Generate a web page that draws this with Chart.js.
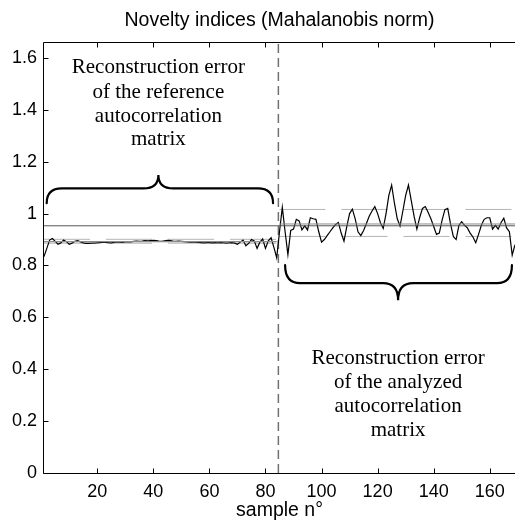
<!DOCTYPE html>
<html>
<head>
<meta charset="utf-8">
<title>Novelty indices</title>
<script src="https://cdn.jsdelivr.net/npm/chart.js@4/dist/chart.umd.min.js"></script>
<style>
  html, body { margin: 0; padding: 0; background: #ffffff; }
  #wrap { width: 515px; height: 522px; position: relative; }
  canvas { display: block; }
</style>
</head>
<body>
<div id="wrap"><canvas id="chart" width="515" height="522"></canvas></div>
<script>
// Novelty index per sample: samples 1-84 (reference matrix), 85-169 (analyzed matrix)
const firstSample = 1;
const referenceValues = [
  0.834, 0.866, 0.898, 0.904, 0.893, 0.882, 0.887, 0.898, 0.892, 0.882,
  0.886, 0.893, 0.896, 0.891, 0.887, 0.885, 0.885, 0.886, 0.886, 0.887,
  0.888, 0.889, 0.890, 0.888, 0.887, 0.889, 0.891, 0.890, 0.889, 0.891,
  0.892, 0.891, 0.893, 0.894, 0.893, 0.894, 0.896, 0.895, 0.896, 0.897,
  0.896, 0.894, 0.893, 0.895, 0.897, 0.896, 0.894, 0.893, 0.894, 0.893,
  0.892, 0.891, 0.890, 0.891, 0.890, 0.889, 0.888, 0.887, 0.888, 0.888,
  0.887, 0.888, 0.887, 0.888, 0.887, 0.886, 0.887, 0.888, 0.886, 0.882,
  0.890, 0.898, 0.876, 0.885, 0.900, 0.895, 0.866, 0.890, 0.902, 0.866,
  0.895, 0.907, 0.870, 0.830
];
const analyzedValues = [
  0.930, 1.024, 0.930, 0.842, 0.935, 0.940, 0.978, 0.972, 0.937, 0.953,
  0.937, 0.984, 0.980, 0.978, 0.930, 0.890, 0.900, 0.915, 0.930, 0.945,
  0.958, 0.966, 0.925, 0.894, 0.950, 1.000, 1.017, 0.980, 0.930, 0.915,
  0.935, 0.962, 0.990, 1.010, 1.027, 1.000, 0.965, 0.943, 1.000, 1.070,
  1.110, 1.040, 0.980, 0.952, 1.010, 1.070, 1.110, 1.050, 0.990, 0.940,
  0.985, 1.020, 1.027, 1.005, 0.980, 0.950, 0.920, 0.925, 0.975, 1.015,
  1.020, 0.960, 0.912, 0.900, 0.955, 0.969, 0.955, 0.945, 0.925, 0.910,
  0.888, 0.920, 0.955, 0.978, 0.984, 0.984, 0.940, 0.955, 0.940, 0.965,
  0.982, 0.945, 0.930, 0.840, 0.880
];

// Threshold and band statistics
const threshold = 0.953;
const referenceMean = 0.892;
const referenceBand = [0.886, 0.901];
const analyzedMean = 0.960;
const analyzedBand = [0.912, 1.016];
const splitSample = 84.6;
const lastSample = 169;

// Axis ticks
const xTicks = [20, 40, 60, 80, 100, 120, 140, 160];
const xTickLabels = ['20', '40', '60', '80', '100', '120', '140', '160'];
const yTicks = [0, 0.2, 0.4, 0.6, 0.8, 1, 1.2, 1.4, 1.6];
const yTickLabels = ['0', '0.2', '0.4', '0.6', '0.8', '1', '1.2', '1.4', '1.6'];

// Annotation texts
const referenceNote = ['Reconstruction error', 'of the reference', 'autocorrelation', 'matrix'];
const analyzedNote = ['Reconstruction error', 'of the analyzed', 'autocorrelation', 'matrix'];

const allValues = referenceValues.concat(analyzedValues);
const seriesPoints = allValues.map((v, i) => ({ x: firstSample + i, y: v }));
const refEnd = firstSample + referenceValues.length - 1;
const anaStart = refEnd + 1;

function hLine(y, x0, x1) { return [{ x: x0, y: y }, { x: x1, y: y }]; }

const base = { pointRadius: 0, pointHoverRadius: 0, fill: false, tension: 0 };

const datasets = [
  Object.assign({ data: hLine(threshold, firstSample, lastSample), borderColor: '#555555', borderWidth: 1 }, base),
  Object.assign({ data: hLine(referenceMean, firstSample, refEnd), borderColor: '#8c8c8c', borderWidth: 1.2 }, base),
  Object.assign({ data: hLine(analyzedMean, anaStart, lastSample), borderColor: '#8c8c8c', borderWidth: 1 }, base),
  Object.assign({ data: seriesPoints, borderColor: '#000000', borderWidth: 1.2 }, base),
  Object.assign({ data: hLine(referenceBand[0], firstSample, refEnd), borderColor: '#b4b4b4', borderWidth: 1, borderDash: [46, 16] }, base),
  Object.assign({ data: hLine(referenceBand[1], firstSample, refEnd), borderColor: '#b4b4b4', borderWidth: 1, borderDash: [46, 16] }, base),
  Object.assign({ data: hLine(analyzedBand[0], anaStart, lastSample), borderColor: '#b4b4b4', borderWidth: 1, borderDash: [46, 16] }, base),
  Object.assign({ data: hLine(analyzedBand[1], anaStart, lastSample), borderColor: '#b4b4b4', borderWidth: 1, borderDash: [46, 16] }, base),
  Object.assign({ data: [{ x: splitSample, y: 0 }, { x: splitSample, y: 1.66 }], borderColor: '#707070', borderWidth: 1.5, borderDash: [9, 5] }, base)
];

// Curly brace in pixel space: ends at yEnd, straight part at yMid, point at yTip
function brace(ctx, x0, x1, xt, yEnd, yMid, yTip, r) {
  ctx.beginPath();
  ctx.moveTo(x0, yEnd);
  ctx.quadraticCurveTo(x0, yMid, x0 + r, yMid);
  ctx.lineTo(xt - r, yMid);
  ctx.quadraticCurveTo(xt, yMid, xt, yTip);
  ctx.quadraticCurveTo(xt, yMid, xt + r, yMid);
  ctx.lineTo(x1 - r, yMid);
  ctx.quadraticCurveTo(x1, yMid, x1, yEnd);
  ctx.stroke();
}

const frameAndNotes = {
  id: 'frameAndNotes',
  afterDraw(chart) {
    const { ctx, chartArea: a, scales } = chart;
    const sx = scales.x, sy = scales.y;
    ctx.save();
    // axes frame
    ctx.strokeStyle = '#000000';
    ctx.lineWidth = 1;
    const L = Math.round(a.left) - 0.5, B = Math.round(a.bottom) + 0.5, T = Math.round(a.top) + 0.5;
    ctx.beginPath();
    ctx.moveTo(L, T); ctx.lineTo(a.right + 2, T);
    ctx.moveTo(L, T); ctx.lineTo(L, B);
    ctx.lineTo(a.right + 2, B);
    ctx.stroke();
    // inward tick marks
    ctx.beginPath();
    xTicks.forEach(t => {
      const px = Math.round(sx.getPixelForValue(t)) + 0.5;
      ctx.moveTo(px, B); ctx.lineTo(px, B - 5);
      ctx.moveTo(px, T); ctx.lineTo(px, T + 5);
    });
    yTicks.forEach(t => {
      const py = Math.round(sy.getPixelForValue(t)) + 0.5;
      ctx.moveTo(L, py); ctx.lineTo(L + 5, py);
    });
    ctx.stroke();

    // braces
    ctx.lineWidth = 2.2;
    ctx.lineCap = 'round';
    brace(ctx, sx.getPixelForValue(1.96), sx.getPixelForValue(82.7), sx.getPixelForValue(41.8),
      sy.getPixelForValue(1.04), sy.getPixelForValue(1.097), sy.getPixelForValue(1.149), 15);
    brace(ctx, sx.getPixelForValue(87.0), sx.getPixelForValue(167.9), sx.getPixelForValue(127.3),
      sy.getPixelForValue(0.801), sy.getPixelForValue(0.732), sy.getPixelForValue(0.666), 15);

    // notes
    ctx.fillStyle = '#000000';
    ctx.font = '21px "Liberation Serif", "Times New Roman", serif';
    ctx.textAlign = 'center';
    ctx.textBaseline = 'alphabetic';
    const leftY = [1.541, 1.445, 1.354, 1.263];
    referenceNote.forEach((s, i) => ctx.fillText(s, sx.getPixelForValue(41.8), sy.getPixelForValue(leftY[i])));
    const rightY = [0.420, 0.327, 0.235, 0.143];
    analyzedNote.forEach((s, i) => ctx.fillText(s, sx.getPixelForValue(127.3), sy.getPixelForValue(rightY[i])));
    ctx.restore();
  }
};

const sansFont = '"Liberation Sans", Arial, sans-serif';

new Chart(document.getElementById('chart'), {
  type: 'line',
  data: { datasets: datasets },
  plugins: [frameAndNotes],
  options: {
    responsive: false,
    animation: false,
    devicePixelRatio: 1,
    layout: { padding: { left: 0, right: 0, top: 0, bottom: 0 } },
    plugins: {
      legend: { display: false },
      tooltip: { enabled: false },
      title: {
        display: true,
        fullSize: false,
        text: 'Novelty indices (Mahalanobis norm)',
        color: '#000000',
        font: { family: sansFont, size: 19.5, weight: 'normal', lineHeight: 1.2 },
        padding: { top: 9, bottom: 10 }
      }
    },
    scales: {
      x: {
        type: 'linear',
        min: firstSample,
        max: lastSample,
        grid: { display: false, drawTicks: false },
        border: { display: false },
        afterBuildTicks: (s) => { s.ticks = xTicks.map(v => ({ value: v })); },
        afterFit: (s) => { s.height = 49; },
        ticks: {
          color: '#000000',
          padding: 8,
          maxRotation: 0,
          autoSkip: false,
          font: { family: sansFont, size: 18 },
          callback: (v) => xTickLabels[xTicks.indexOf(v)]
        },
        title: {
          display: true,
          text: 'sample n°',
          color: '#000000',
          font: { family: sansFont, size: 19.5, lineHeight: 1.2 },
          padding: { top: 0, bottom: 0 }
        }
      },
      y: {
        type: 'linear',
        min: 0,
        max: 1.66,
        grid: { display: false, drawTicks: false },
        border: { display: false },
        afterBuildTicks: (s) => { s.ticks = yTicks.map(v => ({ value: v })); },
        afterFit: (s) => { s.width = 44; },
        ticks: {
          color: '#000000',
          padding: 7,
          autoSkip: false,
          font: { family: sansFont, size: 18 },
          callback: (v) => yTickLabels[yTicks.indexOf(v)]
        }
      }
    }
  }
});
</script>
</body>
</html>
